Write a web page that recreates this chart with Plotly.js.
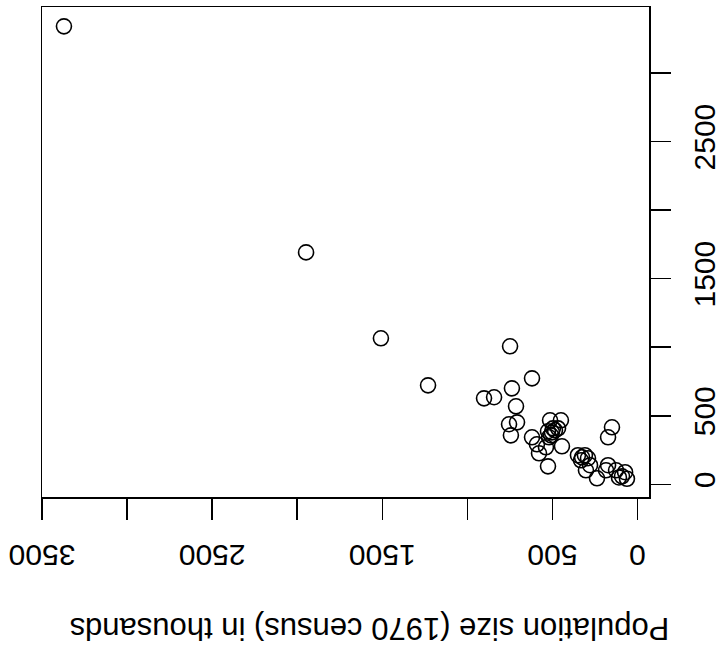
<!DOCTYPE html>
<html>
<head>
<meta charset="utf-8">
<script src="https://cdn.plot.ly/plotly-3.0.1.min.js"></script>
<style>html,body{margin:0;padding:0;background:#fff;}#chart{width:719px;height:647px;}</style>
</head>
<body>
<div id="chart"></div>
<script>
// Population size (1970 census) in thousands vs. second variable
var popX = [3371, 1948, 1508, 1231, 902, 843, 749, 620, 738, 714, 755, 708, 744, 620, 591, 579, 526,
            514, 450, 526, 503, 485, 508, 467, 538, 444, 150, 173, 350, 326, 309, 291, 332, 279, 303,
            238, 173, 185, 126, 109, 73, 62, 91, 497, 520];
var popY = [3341, 1692, 1065, 722, 627, 635, 1007, 773, 700, 569, 438, 452, 357, 343, 292, 226, 131,
            467, 467, 387, 379, 394, 357, 408, 270, 277, 416, 343, 212, 197, 212, 190, 175, 139, 102,
            44, 139, 102, 102, 50, 88, 40, 58, 408, 343];
var xTickVals = [0, 500, 1000, 1500, 2000, 2500, 3000, 3500];
var xTickText = ["0", "500", "", "1500", "", "2500", "", "3500"];
var yTickVals = [0, 500, 1000, 1500, 2000, 2500, 3000];
var yTickText = ["0", "500", "", "1500", "", "2500", ""];
var xTitle = "Population size (1970 census) in thousands";

var font = {family: "Liberation Sans, Arial, sans-serif", size: 30, color: "#000"};

var trace = {
  x: popX, y: popY, type: "scatter", mode: "markers",
  marker: {symbol: "circle-open", size: 15, color: "#000", line: {color: "#000", width: 1.6}},
  hoverinfo: "skip"
};

var layout = {
  width: 719, height: 647,
  margin: {l: 42, r: 70, t: 7, b: 150, pad: 0},
  paper_bgcolor: "#fff", plot_bgcolor: "#fff",
  showlegend: false,
  font: font,
  xaxis: {
    range: [3500, -67.6], showgrid: false, zeroline: false,
    showline: true, mirror: true, linecolor: "#000", linewidth: 1.5,
    ticks: "outside", ticklen: 21, tickwidth: 1.5, tickcolor: "#000",
    tickmode: "array", tickvals: xTickVals, ticktext: xTickText,
    tickangle: 180, tickfont: font, ticklabelstandoff: 19
  },
  yaxis: {
    range: [-92.7, 3482], side: "right", showgrid: false, zeroline: false,
    showline: true, mirror: true, linecolor: "#000", linewidth: 1.5,
    ticks: "outside", ticklen: 20, tickwidth: 1.5, tickcolor: "#000",
    tickmode: "array", tickvals: yTickVals, ticktext: yTickText,
    tickangle: -90, tickfont: font, ticklabelstandoff: 8
  },
  annotations: [{
    text: xTitle, xref: "paper", yref: "paper", x: 0.539, y: -0.268,
    xanchor: "center", yanchor: "middle", textangle: 180, showarrow: false,
    font: {family: font.family, size: 31, color: "#000"}
  }]
};

Plotly.newPlot("chart", [trace], layout, {staticPlot: true, displayModeBar: false});
</script>
</body>
</html>
